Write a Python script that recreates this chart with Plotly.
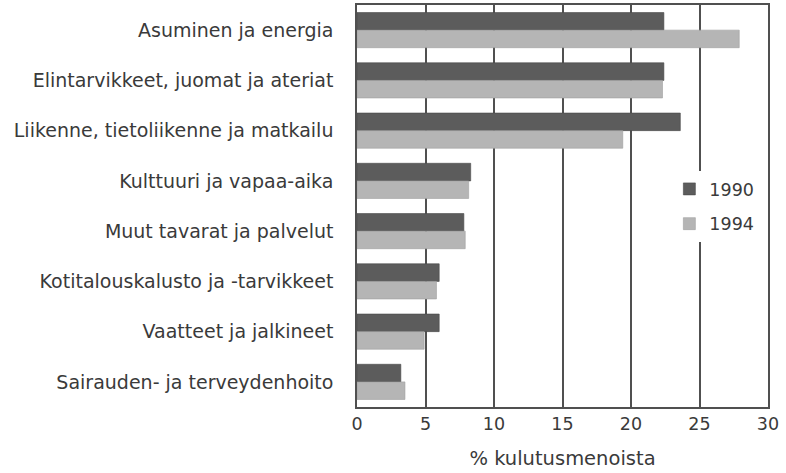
import plotly.graph_objects as go

categories = [
    "Asuminen ja energia",
    "Elintarvikkeet, juomat ja ateriat",
    "Liikenne, tietoliikenne ja matkailu",
    "Kulttuuri ja vapaa-aika",
    "Muut tavarat ja palvelut",
    "Kotitalouskalusto ja -tarvikkeet",
    "Vaatteet ja jalkineet",
    "Sairauden- ja terveydenhoito",
]
values_1990 = [22.4, 22.4, 23.6, 8.3, 7.8, 6.0, 6.0, 3.2]
values_1994 = [27.9, 22.3, 19.4, 8.15, 7.9, 5.8, 4.9, 3.5]
x_ticks = [0, 5, 10, 15, 20, 25, 30]

font_family = "DejaVu Sans, Liberation Sans, Arial, sans-serif"
text_color = "#3a3a3a"

fig = go.Figure()
fig.add_trace(go.Bar(
    y=categories, x=values_1990, name="1990", orientation="h",
    marker=dict(color="#5c5c5c", line=dict(color="#4a4a4a", width=0.6)),
    legendgroup="a",
))
fig.add_trace(go.Bar(
    y=categories, x=values_1994, name="1994", orientation="h",
    marker=dict(color="#b5b5b5", line=dict(color="#a0a0a0", width=0.6)),
    legendgroup="b",
))

fig.update_layout(
    width=786, height=473,
    margin=dict(l=357, r=18, t=5, b=66),
    paper_bgcolor="white", plot_bgcolor="white",
    barmode="group", bargap=0.3, bargroupgap=0,
    font=dict(family=font_family, size=17, color=text_color),
    legend=dict(
        x=0.76, y=0.587, xanchor="left", yanchor="top",
        bgcolor="white", font=dict(size=17.5, color=text_color),
        tracegroupgap=9, itemwidth=30,
    ),
    xaxis=dict(
        range=[0, 30], tickvals=x_ticks, ticktext=[str(t) for t in x_ticks],
        showgrid=True, gridcolor="#505050", gridwidth=1.5,
        showline=True, linecolor="#505050", linewidth=1.5, mirror=True,
        zeroline=False, ticks="", tickfont=dict(size=17.5),
        title=dict(text="% kulutusmenoista", font=dict(size=19.5), standoff=19),
        automargin=False,
    ),
    yaxis=dict(
        autorange="reversed", showgrid=False,
        showline=True, linecolor="#505050", linewidth=1.5, mirror=True,
        ticks="", ticklabelstandoff=18, tickfont=dict(size=19),
        automargin=False,
    ),
)

fig.write_html(
    "out.html",
    config={"displayModeBar": False},
    post_script="document.body.style.margin='0';document.body.style.overflow='hidden';",
)
